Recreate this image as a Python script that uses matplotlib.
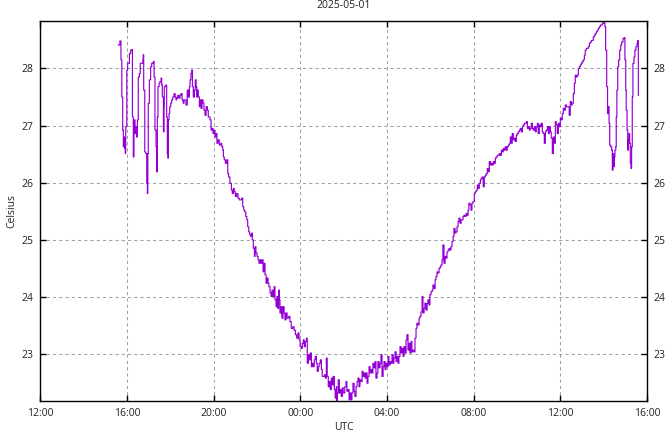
import matplotlib.pyplot as plt
from matplotlib.ticker import FixedLocator, FuncFormatter

# time in hours from midnight of the previous day (so 24 = 00:00 on 2025-05-01)
hours = [
    15.60, 15.66, 15.67, 15.71, 15.72, 15.76, 15.80, 15.83, 15.86, 15.89, 15.92, 15.94, 15.99, 16.03,
    16.11, 16.17, 16.23, 16.25, 16.29, 16.32, 16.37, 16.42, 16.45, 16.48, 16.52, 16.57, 16.61, 16.73,
    16.75, 16.77, 16.82, 16.86, 16.91, 16.94, 16.96, 16.98, 17.03, 17.09, 17.14, 17.21, 17.25, 17.29,
    17.34, 17.37, 17.40, 17.43, 17.48, 17.52, 17.57, 17.60, 17.63, 17.68, 17.71, 17.72, 17.79, 17.83,
    17.86, 17.89, 17.91, 17.94, 17.97, 18.02, 18.06, 18.11, 18.17, 18.22, 18.26, 18.29, 18.34, 18.39,
    18.45, 18.49, 18.54, 18.59, 18.63, 18.68, 18.72, 18.78, 18.83, 18.88, 18.91, 18.95, 18.99, 19.02,
    19.06, 19.11, 19.15, 19.19, 19.22, 19.25, 19.29, 19.34, 19.37, 19.42, 19.46, 19.51, 19.55, 19.60,
    19.65, 19.71, 19.75, 19.83, 19.88, 19.92, 19.97, 20.02, 20.06, 20.11, 20.15, 20.20, 20.26, 20.33,
    20.37, 20.42, 20.45, 20.49, 20.54, 20.60, 20.65, 20.69, 20.75, 20.82, 20.86, 20.91, 20.95, 21.00,
    21.06, 21.12, 21.18,
    21.22, 21.29, 21.34, 21.39, 21.43, 21.48, 21.53, 21.57, 21.62, 21.66, 21.71, 21.76, 21.78, 21.83,
    21.88, 21.91, 21.95, 22.00, 22.05, 22.09, 22.14, 22.19, 22.23, 22.28, 22.32, 22.37, 22.42, 22.46,
    22.51, 22.55, 22.60, 22.65, 22.69, 22.74, 22.79, 22.83, 22.88, 22.92, 22.96, 23.00, 23.03, 23.06,
    23.11, 23.15, 23.20, 23.25, 23.29, 23.34, 23.39, 23.46, 23.52, 23.58, 23.65, 23.71, 23.77, 23.83,
    23.89, 23.94, 23.99, 24.05, 24.09, 24.14, 24.18, 24.23, 24.28, 24.32, 24.37, 24.41, 24.46, 24.51,
    24.55, 24.60, 24.64, 24.69, 24.74, 24.78, 24.83, 24.87, 24.92, 24.97, 25.01, 25.06, 25.11, 25.15,
    25.20, 25.24, 25.29, 25.34, 25.38, 25.43, 25.48, 25.52, 25.57, 25.61, 25.66, 25.68, 25.71, 25.75,
    25.80, 25.85, 25.89, 25.94, 25.98, 26.05, 26.11, 26.15, 26.20, 26.25, 26.29, 26.34, 26.38, 26.43,
    26.48, 26.52, 26.57, 26.62, 26.66, 26.71, 26.75, 26.80, 26.85, 26.89, 26.94, 26.99, 27.03, 27.08,
    27.12, 27.17, 27.22, 27.26, 27.31, 27.35, 27.40, 27.45, 27.49, 27.54, 27.58, 27.63, 27.68, 27.72,
    27.77, 27.82, 27.86, 27.91, 27.95, 28.00, 28.05, 28.09, 28.14, 28.18, 28.23, 28.28, 28.32, 28.37,
    28.42, 28.46, 28.51, 28.55, 28.60, 28.65, 28.69, 28.74, 28.78, 28.83, 28.88, 28.92, 28.97, 29.02,
    29.06, 29.11, 29.15, 29.20, 29.25, 29.29, 29.34, 29.38, 29.43, 29.48, 29.52, 29.57, 29.62, 29.66,
    29.71, 29.75, 29.80, 29.85, 29.89, 29.94, 29.98, 30.03, 30.08, 30.12, 30.17, 30.22, 30.26, 30.31,
    30.35, 30.40, 30.45, 30.49, 30.54, 30.58, 30.63, 30.68, 30.72, 30.77, 30.82, 30.86, 30.91, 30.95,
    31.00, 31.05, 31.09, 31.14, 31.18, 31.23, 31.28, 31.32, 31.37, 31.42, 31.46, 31.51, 31.55, 31.60,
    31.65, 31.69, 31.74, 31.78, 31.83, 31.88, 31.92, 31.97,
    32.03, 32.07, 32.12, 32.17, 32.21, 32.26, 32.31, 32.35, 32.40, 32.44, 32.49, 32.54, 32.58, 32.63,
    32.68, 32.72, 32.77, 32.81, 32.86, 32.91, 32.95, 33.00, 33.04, 33.09, 33.14, 33.18, 33.23, 33.28,
    33.32, 33.37, 33.41, 33.46, 33.51, 33.55, 33.60, 33.65, 33.69, 33.74, 33.78, 33.83, 33.88, 33.92,
    33.97, 34.01, 34.06, 34.11, 34.15, 34.20, 34.25, 34.29, 34.34, 34.38, 34.43, 34.48, 34.52, 34.57,
    34.61, 34.66, 34.71, 34.75, 34.80, 34.85, 34.89, 34.94, 34.98, 35.03, 35.08, 35.12, 35.17, 35.21,
    35.26, 35.31, 35.35, 35.40, 35.45, 35.49, 35.54, 35.58, 35.63, 35.68, 35.72, 35.77, 35.81, 35.86,
    35.91, 35.95, 36.00, 36.05, 36.09, 36.14, 36.18, 36.23, 36.28, 36.32, 36.37, 36.41, 36.46, 36.51,
    36.55, 36.60, 36.65, 36.69, 36.74, 36.78, 36.83, 36.88, 36.92, 36.97, 37.01, 37.06, 37.11, 37.15,
    37.20, 37.25, 37.29, 37.34, 37.38, 37.43, 37.48, 37.52, 37.57, 37.61, 37.66, 37.71, 37.75, 37.80,
    37.85, 37.89, 37.94, 37.98, 38.03, 38.06, 38.09, 38.14, 38.18, 38.21, 38.25, 38.28, 38.32, 38.37,
    38.40, 38.43, 38.46, 38.49, 38.52, 38.56, 38.58, 38.61, 38.65, 38.69, 38.74, 38.79, 38.83, 38.89,
    38.94, 38.98, 39.02, 39.04, 39.08, 39.11, 39.14, 39.17, 39.20, 39.23, 39.26, 39.29, 39.32, 39.35,
    39.40, 39.44, 39.49, 39.54, 39.58, 39.60,
]

temps = [
    28.41, 28.41, 28.48, 28.48, 28.15, 27.50, 26.92, 26.63, 26.80, 26.60, 26.51, 26.98, 27.97, 28.09,
    28.26, 28.32, 28.33, 27.15, 26.45, 27.10, 26.86, 26.98, 26.80, 27.10, 27.85, 27.91, 28.09, 28.15,
    28.24, 27.62, 26.54, 26.51, 25.99, 25.81, 26.51, 27.39, 27.80, 28.03, 28.09, 28.12, 27.85, 26.92,
    26.63, 26.19, 27.15, 27.68, 27.74, 27.77, 27.83, 27.71, 27.50, 26.89, 27.33, 27.68, 27.71, 27.15,
    26.51, 26.43, 27.10, 27.21, 27.33, 27.39, 27.45, 27.50, 27.56, 27.50, 27.45, 27.48, 27.53, 27.48,
    27.53, 27.56, 27.45, 27.39, 27.45, 27.45, 27.36, 27.62, 27.50, 27.68, 27.80, 27.91, 27.97, 27.68,
    27.50, 27.62, 27.80, 27.68, 27.50, 27.62, 27.50, 27.33, 27.45, 27.30, 27.45, 27.39, 27.27, 27.18,
    27.33, 27.27, 27.15, 27.10, 26.92, 26.95, 26.86, 26.92, 26.80, 26.86, 26.69, 26.75, 26.66, 26.69,
    26.63, 26.57, 26.45, 26.40, 26.34, 26.40, 26.16, 26.10, 25.99, 25.87, 25.81, 25.90, 25.84, 25.76,
    25.81, 25.73, 25.70,
    25.70, 25.73, 25.58, 25.52, 25.49, 25.41, 25.35, 25.23, 25.14, 25.09, 25.06, 25.12, 25.00, 24.85,
    24.71, 24.88, 24.77, 24.71, 24.65, 24.59, 24.65, 24.59, 24.65, 24.44, 24.59, 24.39, 24.24, 24.33,
    24.24, 24.18, 24.07, 24.01, 24.12, 24.01, 24.18, 23.95, 23.83, 24.01, 23.80, 24.12, 23.95, 23.72,
    23.83, 23.63, 23.83, 23.72, 23.60, 23.72, 23.63, 23.66, 23.57, 23.45, 23.48, 23.42, 23.34, 23.28,
    23.37, 23.25, 23.13, 23.10, 23.19, 23.25, 23.13, 23.22, 23.28, 22.84, 22.99, 22.90, 23.02, 22.78,
    22.84, 22.78, 22.90, 22.96, 22.84, 22.70, 22.78, 22.84, 22.90, 22.73, 22.61, 22.61, 22.64, 22.58,
    22.93, 22.61, 22.43, 22.52, 22.38, 22.58, 22.46, 22.61, 22.38, 22.23, 22.43, 22.18, 22.32, 22.55,
    22.32, 22.38, 22.26, 22.41, 22.32, 22.43, 22.52, 22.35, 22.38, 22.20, 22.32, 22.20, 22.32, 22.49,
    22.35, 22.26, 22.43, 22.52, 22.58, 22.43, 22.55, 22.52, 22.70, 22.61, 22.67, 22.58, 22.67, 22.49,
    22.61, 22.78, 22.67, 22.73, 22.67, 22.84, 22.76, 22.87, 22.58, 22.67, 22.87, 22.76, 22.84, 22.99,
    22.61, 22.78, 22.87, 22.73, 22.84, 22.78, 22.96, 22.81, 22.87, 22.84, 22.99, 22.84, 22.93, 23.04,
    22.87, 22.96, 22.84, 22.96, 23.13, 23.02, 23.10, 22.96, 23.13, 23.02, 23.25, 23.34, 23.07, 23.19,
    23.02, 23.22, 23.04, 23.07, 23.04, 23.28, 23.45, 23.54, 23.51, 23.63, 23.66, 23.74, 24.01, 23.72,
    23.80, 23.89, 23.77, 23.89, 23.95, 23.86, 24.04, 24.09, 24.12, 24.21, 24.15, 24.30, 24.36, 24.44,
    24.42, 24.50, 24.53, 24.56, 24.65, 24.91, 24.59, 24.71, 24.68, 24.79, 24.82, 24.85, 24.82, 24.88,
    24.97, 25.06, 25.20, 25.12, 25.14, 25.23, 25.32, 25.38, 25.29, 25.35, 25.35, 25.41, 25.43, 25.41,
    25.46, 25.43, 25.52, 25.64, 25.61, 25.52, 25.64, 25.67,
    25.81, 25.84, 25.87, 25.96, 25.90, 25.99, 26.05, 26.08, 26.10, 25.93, 26.10, 26.13, 26.16, 26.25,
    26.19, 26.37, 26.31, 26.34, 26.31, 26.37, 26.34, 26.43, 26.45, 26.48, 26.48, 26.51, 26.48, 26.57,
    26.54, 26.60, 26.57, 26.63, 26.57, 26.63, 26.66, 26.69, 26.80, 26.69, 26.86, 26.75, 26.78, 26.72,
    26.83, 26.86, 26.89, 26.92, 26.95, 26.89, 26.98, 27.01, 27.04, 27.04, 27.07, 26.95, 26.98, 26.92,
    26.95, 27.04, 26.95, 26.92, 26.98, 26.89, 26.98, 27.04, 26.86, 27.01, 26.98, 27.04, 26.89, 26.86,
    26.69, 26.89, 26.92, 26.98, 26.86, 26.98, 26.89, 26.78, 26.51, 26.80, 26.69, 27.07, 27.01, 26.86,
    27.04, 26.98, 27.13, 27.10, 27.21, 27.30, 27.27, 27.36, 27.33, 27.33, 27.33, 27.18, 27.42, 27.36,
    27.39, 27.56, 27.74, 27.88, 27.85, 27.88, 28.00, 28.03, 28.06, 28.09, 28.12, 28.15, 28.23, 28.32,
    28.35, 28.35, 28.38, 28.44, 28.46, 28.49, 28.49, 28.55, 28.58, 28.61, 28.64, 28.67, 28.70, 28.73,
    28.76, 28.76, 28.79, 28.81, 28.79, 28.73, 28.32, 27.68, 27.21, 27.33, 27.04, 26.66, 26.63, 26.57,
    26.22, 26.51, 26.28, 26.45, 26.57, 26.63, 27.15, 27.62, 28.03, 28.15, 28.32, 28.41, 28.46, 28.52,
    28.54, 28.15, 27.62, 27.27, 26.92, 26.57, 26.75, 26.86, 26.69, 26.34, 26.25, 26.63, 27.50, 28.09,
    28.20, 28.32, 28.38, 28.44, 28.49, 27.53,
]

x_ticks = [12, 16, 20, 24, 28, 32, 36, 40]
y_ticks = [23, 24, 25, 26, 27, 28]

plt.rcParams['font.family'] = ['Open Sans', 'DejaVu Sans']
plt.rcParams['font.size'] = 7.5

fig = plt.figure(figsize=(6.67, 4.32), dpi=100)
ax = fig.add_axes([0.0605, 0.0718, 0.9095, 0.8796])

# stepped trace, like the logger's sample-and-hold output
ax.step(hours, temps, where='post', color='#9400d3', linewidth=0.85, zorder=3)

ax.set_xlim(12, 40)
ax.set_ylim(22.18, 28.83)

ax.xaxis.set_major_locator(FixedLocator(x_ticks))
ax.xaxis.set_major_formatter(FuncFormatter(lambda v, p: "%02d:00" % (int(round(v)) % 24)))
ax.yaxis.set_major_locator(FixedLocator(y_ticks))
ax.yaxis.set_major_formatter(FuncFormatter(lambda v, p: "%d" % v))

ax.tick_params(direction='in', length=4, width=1, top=True, right=True,
               labelright=True, pad=5, colors='black', labelcolor='#222222')
ax.grid(True, color='#a0a0a0', linestyle=(0, (3, 3)), linewidth=0.75, zorder=0)
for s in ax.spines.values():
    s.set_linewidth(1.0)
    s.set_zorder(4)

ax.set_title("2025-05-01", pad=9, fontsize=7.5, color='#222222')
ax.set_xlabel("UTC", labelpad=2.5, color='#222222')
ax.set_ylabel("Celsius", labelpad=3, color='#222222')

fig.savefig("out.png", dpi=100)
